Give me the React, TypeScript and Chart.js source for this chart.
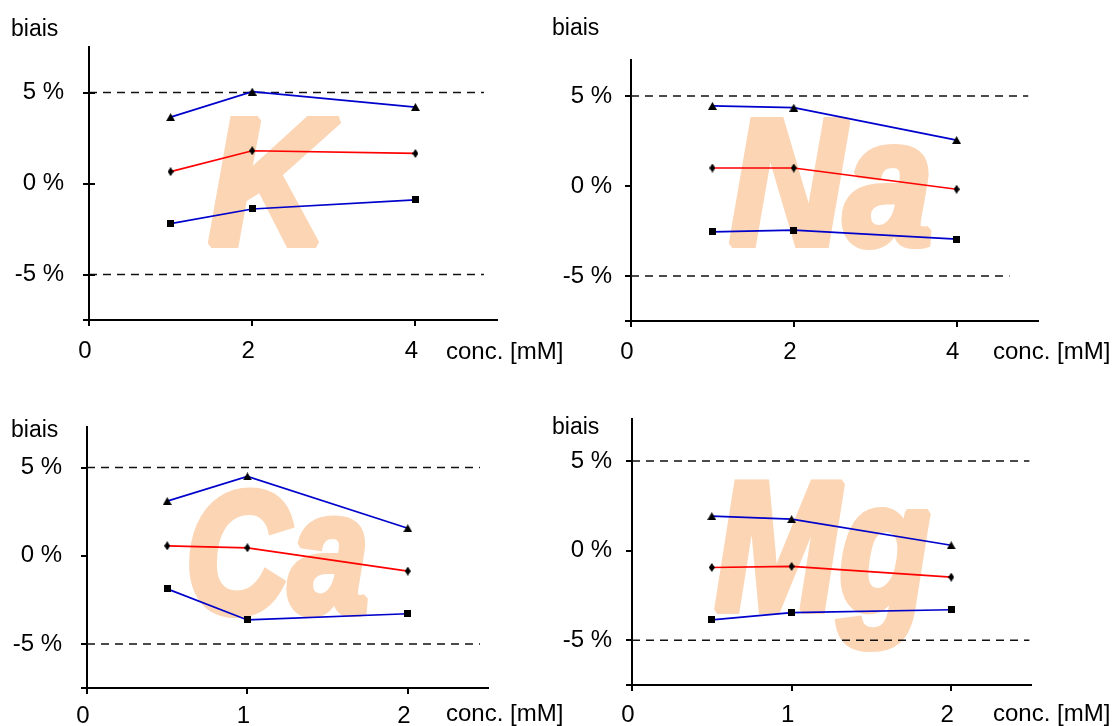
import React, { useEffect, useRef } from 'react';
import { Chart, registerables } from 'chart.js';

Chart.register(...registerables);

// ---------- data ----------
const kConc = [1, 2, 4];
const kUpper = [3.65, 5.05, 4.2];
const kMean = [0.65, 1.8, 1.65];
const kLower = [-2.2, -1.4, -0.9];

const naConc = [1, 2, 4];
const naUpper = [4.45, 4.35, 2.55];
const naMean = [1.0, 1.0, -0.18];
const naLower = [-2.55, -2.45, -2.95];

const caConc = [0.5, 1, 2];
const caUpper = [3.1, 4.5, 1.56];
const caMean = [0.56, 0.45, -0.87];
const caLower = [-1.88, -3.64, -3.29];

const mgConc = [0.5, 1, 2];
const mgUpper = [1.93, 1.76, 0.3];
const mgMean = [-0.94, -0.88, -1.48];
const mgLower = [-3.86, -3.46, -3.3];

const limitValues = [5, -5];
const kLimitEnds = [4.84, 4.84];
const naLimitEnds = [4.88, 4.65];
const caLimitEnds = [2.45, 2.45];
const mgLimitEnds = [2.49, 2.49];

const yTickValues = [-7.5, -5, 0, 5];
const xTicksMajor = [0, 2, 4];
const xTicksMinor = [0, 1, 2];

const yTitle = 'biais';
const xTitle = 'conc. [mM]';

// ---------- layout / style ----------
const W = 1117;
const H = 726;
const Y_W = 86;
const FONT = '"Liberation Sans", Arial, Helvetica, sans-serif';
const BLUE = '#0000CC';
const RED = '#FF0000';
const PEACH = '#FBD5B4';
const THICK = 4;

const PANELS = [
  {
    key: 'K', conc: kConc, upper: kUpper, mean: kMean, lower: kLower, limitEnds: kLimitEnds,
    xTicks: xTicksMajor, xMax: 5, yMin: -7.5, yMax: 7.5,
    area: { left: 89, top: 47, right: 497, bottom: 320 },
    yPad: 19, xPad: 11, cross: true,
    biais: { x: 11, y: 36 }, concPos: { x: 446, y: 352 },
    mark: { text: 'K', left: 208, right: 342, top: 115, bottom: 249 },
  },
  {
    key: 'Na', conc: naConc, upper: naUpper, mean: naMean, lower: naLower, limitEnds: naLimitEnds,
    xTicks: xTicksMajor, xMax: 5, yMin: -7.5, yMax: 7.0,
    area: { left: 631, top: 60, right: 1038, bottom: 321 },
    yPad: 13, xPad: 11, cross: false,
    biais: { x: 552, y: 35 }, concPos: { x: 993, y: 352 },
    mark: { text: 'Na', left: 729, right: 932, top: 117, bottom: 250 },
  },
  {
    key: 'Ca', conc: caConc, upper: caUpper, mean: caMean, lower: caLower, limitEnds: caLimitEnds,
    xTicks: xTicksMinor, xMax: 2.5, yMin: -7.5, yMax: 7.3,
    area: { left: 87, top: 427, right: 488, bottom: 688 },
    yPad: 19, xPad: 8, cross: false,
    biais: { x: 11, y: 437 }, concPos: { x: 446, y: 714 },
    mark: { text: 'Ca', left: 189, right: 368, top: 487, bottom: 617 },
  },
  {
    key: 'Mg', conc: mgConc, upper: mgUpper, mean: mgMean, lower: mgLower, limitEnds: mgLimitEnds,
    xTicks: xTicksMinor, xMax: 2.5, yMin: -7.5, yMax: 7.35,
    area: { left: 632, top: 419, right: 1031, bottom: 685 },
    yPad: 14, xPad: 10, cross: false,
    biais: { x: 552, y: 434 }, concPos: { x: 993, y: 714 },
    mark: { text: 'Mg', left: 714, right: 931, top: 479, bottom: 654 },
  },
];

function makeMarker(kind: string): HTMLCanvasElement {
  const c = document.createElement('canvas');
  const ctx = c.getContext('2d')!;
  if (kind === 'tri') {
    c.width = 9; c.height = 8;
    ctx.fillStyle = '#000';
    ctx.beginPath(); ctx.moveTo(4.5, 0); ctx.lineTo(9, 8); ctx.lineTo(0, 8); ctx.closePath(); ctx.fill();
  } else if (kind === 'dia') {
    c.width = 6; c.height = 9;
    ctx.fillStyle = '#000';
    ctx.beginPath(); ctx.moveTo(3, 0); ctx.lineTo(6, 4.5); ctx.lineTo(3, 9); ctx.lineTo(0, 4.5); ctx.closePath(); ctx.fill();
  } else {
    c.width = 7; c.height = 7;
    ctx.fillStyle = '#000';
    ctx.fillRect(0, 0, 7, 7);
  }
  return c;
}

function buildChart(canvas: HTMLCanvasElement, p: any, markers: any) {
  const A = p.area;
  const xH = Math.min(60, H - A.bottom);
  const pts = (xs: number[], ys: number[]) => xs.map((x, i) => ({ x, y: ys[i] }));
  const series = (ys: number[], color: string, marker: HTMLCanvasElement) => ({
    data: pts(p.conc, ys),
    borderColor: color,
    borderWidth: 1.7,
    pointStyle: marker,
    pointRadius: 4,
    pointBackgroundColor: '#000',
    pointBorderColor: '#000',
    tension: 0,
    fill: false,
  });
  const limit = (v: number, end: number) => ({
    data: [{ x: 0, y: v }, { x: end, y: v }],
    borderColor: '#111',
    borderWidth: 1.5,
    borderDash: [8, 6],
    pointRadius: 0,
    fill: false,
  });

  const deco = {
    id: 'deco_' + p.key,
    beforeDatasetsDraw(chart: any) {
      const ctx = chart.ctx;
      const m = p.mark;
      const t = THICK;
      const top = m.top + t, bottom = m.bottom - t, left = m.left + t * 0.8, right = m.right - t * 0.8;
      ctx.save();
      let size = 100;
      ctx.font = `italic bold ${size}px ${FONT}`;
      let tm = ctx.measureText(m.text);
      const h0 = tm.actualBoundingBoxAscent + tm.actualBoundingBoxDescent;
      size = (size * (bottom - top)) / h0;
      ctx.font = `italic bold ${size}px ${FONT}`;
      tm = ctx.measureText(m.text);
      const w = tm.actualBoundingBoxLeft + tm.actualBoundingBoxRight;
      const sx = (right - left) / w;
      ctx.translate(left, top + tm.actualBoundingBoxAscent);
      ctx.scale(sx, 1);
      ctx.textAlign = 'left';
      ctx.textBaseline = 'alphabetic';
      ctx.fillStyle = PEACH;
      ctx.strokeStyle = PEACH;
      ctx.lineWidth = t * 2;
      ctx.lineJoin = 'miter';
      ctx.miterLimit = 1.5;
      ctx.strokeText(m.text, tm.actualBoundingBoxLeft, 0);
      ctx.fillText(m.text, tm.actualBoundingBoxLeft, 0);
      ctx.restore();
    },
    afterDraw(chart: any) {
      const ctx = chart.ctx;
      const ys = chart.scales.y;
      ctx.save();
      if (p.cross) {
        ctx.strokeStyle = '#000';
        ctx.lineWidth = 2;
        [5, 0, -5].forEach((v) => {
          const py = Math.round(ys.getPixelForValue(v));
          ctx.beginPath();
          ctx.moveTo(chart.chartArea.left, py);
          ctx.lineTo(chart.chartArea.left + 6, py);
          ctx.stroke();
        });
      }
      ctx.fillStyle = '#000';
      ctx.textAlign = 'left';
      ctx.textBaseline = 'alphabetic';
      ctx.font = `23px ${FONT}`;
      ctx.fillText(yTitle, p.biais.x, p.biais.y);
      ctx.textBaseline = 'middle';
      ctx.font = `24px ${FONT}`;
      ctx.fillText(xTitle, p.concPos.x, p.concPos.y);
      ctx.restore();
    },
  };

  return new Chart(canvas, {
    type: 'line',
    data: {
      datasets: [
        series(p.upper, BLUE, markers.tri),
        series(p.mean, RED, markers.dia),
        series(p.lower, BLUE, markers.sq),
        limit(limitValues[0], p.limitEnds[0]),
        limit(limitValues[1], p.limitEnds[1]),
      ],
    },
    options: {
      responsive: false,
      animation: false,
      events: [],
      layout: {
        padding: {
          left: A.left - Y_W,
          top: A.top,
          right: W - A.right,
          bottom: H - A.bottom - xH,
        },
      },
      scales: {
        x: {
          type: 'linear',
          min: 0,
          max: p.xMax,
          afterBuildTicks: (s: any) => { s.ticks = p.xTicks.map((v: number) => ({ value: v })); },
          afterFit: (s: any) => { s.height = xH; },
          grid: { display: true, drawOnChartArea: false, drawTicks: true, tickLength: 6, color: '#000', lineWidth: 2 },
          border: { display: true, color: '#000', width: 2 },
          ticks: {
            autoSkip: false, maxRotation: 0, padding: p.xPad, labelOffset: -4,
            color: '#000', font: { family: FONT, size: 24 },
            callback: (v: any) => String(v),
          },
        },
        y: {
          type: 'linear',
          min: p.yMin,
          max: p.yMax,
          afterBuildTicks: (s: any) => { s.ticks = yTickValues.map((v) => ({ value: v })); },
          afterFit: (s: any) => { s.width = Y_W; },
          grid: { display: true, drawOnChartArea: false, drawTicks: true, tickLength: 6, color: '#000', lineWidth: 2 },
          border: { display: true, color: '#000', width: 2 },
          ticks: {
            autoSkip: false, padding: p.yPad,
            color: '#000', font: { family: FONT, size: 24 },
            callback: (v: any) => (v === -7.5 ? '' : `${v} %`),
          },
        },
      },
      plugins: {
        legend: { display: false },
        tooltip: { enabled: false },
        title: { display: false },
      },
    },
    plugins: [deco],
  } as any);
}

export default function App() {
  const r0 = useRef<HTMLCanvasElement>(null);
  const r1 = useRef<HTMLCanvasElement>(null);
  const r2 = useRef<HTMLCanvasElement>(null);
  const r3 = useRef<HTMLCanvasElement>(null);
  const refs = [r0, r1, r2, r3];

  useEffect(() => {
    const markers = { tri: makeMarker('tri'), dia: makeMarker('dia'), sq: makeMarker('sq') };
    const charts = PANELS.map((p, i) => buildChart(refs[i].current as HTMLCanvasElement, p, markers));
    return () => charts.forEach((c) => c.destroy());
  }, []);

  return (
    <div style={{ position: 'absolute', left: 0, top: 0, width: W, height: H, background: '#fff', overflow: 'hidden' }}>
      {PANELS.map((p, i) => (
        <canvas
          key={p.key}
          ref={refs[i]}
          width={W}
          height={H}
          style={{ position: 'absolute', left: 0, top: 0, width: W, height: H }}
        />
      ))}
    </div>
  );
}
